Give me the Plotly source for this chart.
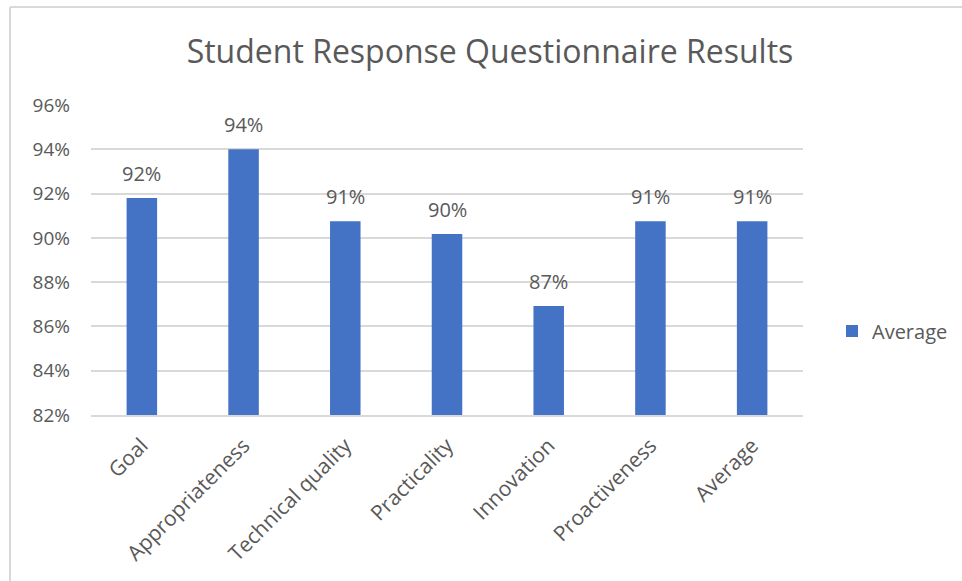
import plotly.graph_objects as go

categories = ["Goal", "Appropriateness", "Technical quality", "Practicality",
              "Innovation", "Proactiveness", "Average"]
average_values = [0.918, 0.940, 0.9075, 0.9017, 0.8692, 0.9075, 0.9075]
series_name = "Average"
title_text = "Student Response Questionnaire Results"

TXT = "#595959"
FONT = "Open Sans"

fig = go.Figure()
fig.add_trace(go.Bar(
    x=categories, y=average_values, name=series_name,
    marker=dict(color="#4472C4", line=dict(width=0)),
    showlegend=True,
))

for c, v in zip(categories, average_values):
    fig.add_annotation(x=c, y=v, text=f"{round(v*100):.0f}%", showarrow=False,
                       yanchor="middle", yshift=25,
                       font=dict(family=FONT, size=20, color=TXT))

L, R, T, B = 91, 159, 105, 166
W, H = 962, 581
pw, ph = W - L - R, H - T - B

# chart border (top & left visible in reference)
fig.add_shape(type="line", xref="paper", yref="paper",
              x0=(10 - L) / pw, x1=(W + 5 - L) / pw,
              y0=(H - B - 7) / ph, y1=(H - B - 7) / ph,
              line=dict(color="#d9d9d9", width=2))
fig.add_shape(type="line", xref="paper", yref="paper",
              x0=(10 - L) / pw, x1=(10 - L) / pw,
              y0=(H - B - 7) / ph, y1=-(B + 5) / ph,
              line=dict(color="#d9d9d9", width=2))

fig.update_layout(
    width=W, height=H,
    margin=dict(l=L, r=R, t=T, b=B, autoexpand=False),
    paper_bgcolor="white", plot_bgcolor="white",
    bargap=0.7,
    title=dict(text=title_text, x=490 / W, xanchor="center",
               y=1 - 52 / H, yanchor="middle",
               font=dict(family=FONT, size=32, color=TXT)),
    font=dict(family=FONT, color=TXT, size=18),
    legend=dict(x=(832 - L) / pw, y=(H - B - 331) / ph, xanchor="left",
                yanchor="middle", font=dict(family=FONT, size=20, color=TXT),
                bgcolor="rgba(0,0,0,0)"),
    xaxis=dict(tickangle=-45, showgrid=False, showline=True,
               linecolor="#d9d9d9", linewidth=2, ticks="", ticklabelstandoff=8,
               tickfont=dict(family=FONT, size=21, color=TXT)),
    yaxis=dict(range=[0.82, 0.96], dtick=0.02, tick0=0.82, tickformat=".0%",
               showgrid=True, gridcolor="#d9d9d9", gridwidth=2,
               zeroline=False, showline=False, ticks="", ticklabelstandoff=20,
               tickfont=dict(family=FONT, size=19, color=TXT)),
)

fig.write_html("out.html")
